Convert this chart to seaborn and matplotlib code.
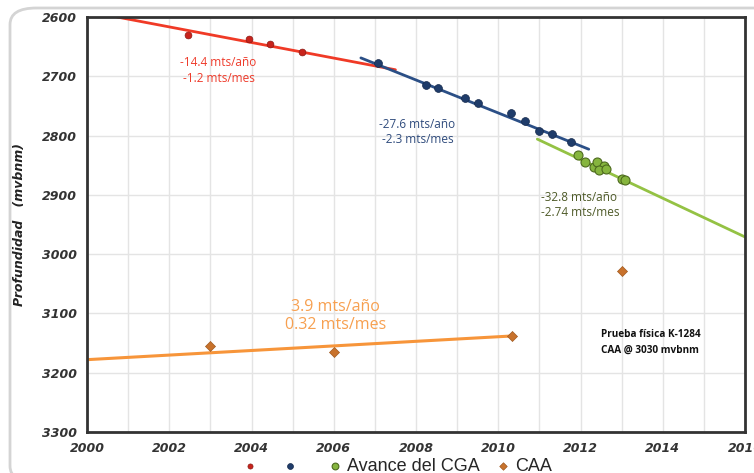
import numpy as np
import matplotlib
matplotlib.use("Agg")
import matplotlib.pyplot as plt
from matplotlib.patches import FancyBboxPatch
import pandas as pd
import seaborn as sns

# puntos medidos (año, profundidad mvbnm)
red_x = [2002.45, 2003.93, 2004.46, 2005.24]
red_y = [2630, 2637, 2645, 2659]
blue_x = [2007.07, 2008.24, 2008.54, 2009.2, 2009.5, 2010.3, 2010.65, 2011.0, 2011.3, 2011.76]
blue_y = [2678, 2715, 2720, 2737, 2745, 2762, 2775, 2792, 2797, 2811]
green_x = [2011.95, 2012.1, 2012.32, 2012.41, 2012.56, 2012.46, 2012.63, 2013.0, 2013.07]
green_y = [2833, 2845, 2853, 2845, 2851, 2858, 2856, 2873, 2875]
caa_x = [2002.98, 2006.0, 2010.34, 2013.0]
caa_y = [3155, 3165, 3138, 3028]

# tendencias
red_line_x = [2000.73, 2007.5]
red_line_y = [2600, 2689]
blue_line_x = [2006.66, 2012.2]
blue_line_y = [2669, 2823]
green_line_x = [2010.95, 2016.0]
green_line_y = [2806, 2971]
caa_line_x = [2000.0, 2010.34]
caa_line_y = [3178, 3138]

x_ticks = list(range(2000, 2017, 2))
y_ticks = list(range(2600, 3301, 100))

sns.set_style("white")
plt.rcParams['font.family'] = ['DejaVu Sans']

fig = plt.figure(figsize=(7.54, 4.73), dpi=100)
ax = fig.add_axes([87/754, 1-432/473, (745-87)/754, (432-17)/473])

# rounded frame around the chart
frame = FancyBboxPatch((10/754, -0.02), 1.04 - 10/754, 1-8/473+0.02,
                       boxstyle="round,pad=0,rounding_size=0.035",
                       transform=fig.transFigure, fill=False,
                       edgecolor="#d4d4d4", linewidth=2, zorder=-5)
fig.patches.append(frame)

# trend lines
sns.lineplot(x=red_line_x, y=red_line_y, ax=ax, color="#f03a26", linewidth=2, zorder=2)
sns.lineplot(x=blue_line_x, y=blue_line_y, ax=ax, color="#2b4f86", linewidth=2, zorder=2)
sns.lineplot(x=green_line_x, y=green_line_y, ax=ax, color="#94c244", linewidth=2, zorder=2)
sns.lineplot(x=caa_line_x, y=caa_line_y, ax=ax, color="#f7953a", linewidth=2.2, zorder=2)

# points
sns.scatterplot(x=red_x, y=red_y, ax=ax, color="#c8231c", s=24, edgecolor="#8a1a14",
                linewidth=0.5, zorder=3, label=" ")
sns.scatterplot(x=blue_x, y=blue_y, ax=ax, color="#1f3c6a", s=32, edgecolor="#14284a",
                linewidth=0.5, zorder=3, label="  ")
sns.scatterplot(x=green_x, y=green_y, ax=ax, color="#86b53e", s=42, edgecolor="#4d6a1e",
                linewidth=0.8, zorder=3, label="Avance del CGA")
sns.scatterplot(x=caa_x, y=caa_y, ax=ax, color="#c8722c", marker="D", s=26,
                edgecolor="#a05a20", linewidth=0.5, zorder=3, label="CAA")

ax.set_xlim(2000, 2016)
ax.set_ylim(3300, 2600)
ax.set_xticks(x_ticks)
ax.set_yticks(y_ticks)
ax.set_xticks(range(2000, 2017), minor=True)
ax.grid(True, which="both", color="#e4e4e4", linewidth=1)
ax.set_axisbelow(True)
ax.tick_params(axis="both", which="minor", length=0)
ax.tick_params(axis="both", which="major", length=3, color="#999999", pad=4)
for lab in ax.get_xticklabels() + ax.get_yticklabels():
    lab.set_fontweight("bold")
    lab.set_fontstyle("italic")
    lab.set_fontsize(9)
    lab.set_color("#333333")
for sp in ax.spines.values():
    sp.set_color("#333333")
    sp.set_linewidth(2)

ax.set_ylabel("Profundidad   (mvbnm)", fontsize=9, fontweight="bold",
              fontstyle="italic", color="#222222", labelpad=12)
ax.set_xlabel("")

# anotaciones
ax.text(2002.27, 2666, "-14.4 mts/año\n -1.2 mts/mes", color="#ee3a2a", fontsize=8.5,
        family="Open Sans", linespacing=1.25, va="top")
ax.text(2007.1, 2770, "-27.6 mts/año\n -2.3 mts/mes", color="#2f4b7c", fontsize=8.5,
        family="Open Sans", linespacing=1.25, va="top")
ax.text(2011.05, 2893, "-32.8 mts/año\n-2.74 mts/mes", color="#4e5a28", fontsize=8.5,
        family="Open Sans", linespacing=1.25, va="top")
ax.text(2006.05, 3075, "3.9 mts/año\n0.32 mts/mes", color="#f7a050", fontsize=11.5,
        family="Open Sans", ha="center", va="top", linespacing=1.2)
ax.text(2012.5, 3127, "Prueba física K-1284\nCAA @ 3030 mvbnm", color="#111111",
        fontsize=7.2, fontweight="bold", family="Open Sans", linespacing=1.5, va="top")

leg = ax.legend(loc="upper center", bbox_to_anchor=(0.471, -0.032), ncol=4, frameon=False,
                handlelength=0.8, handletextpad=0.25, columnspacing=0.9, markerscale=0.75,
                borderpad=0.2, prop={"family": "Liberation Sans", "size": 13})

fig.savefig("out.png", dpi=100)
